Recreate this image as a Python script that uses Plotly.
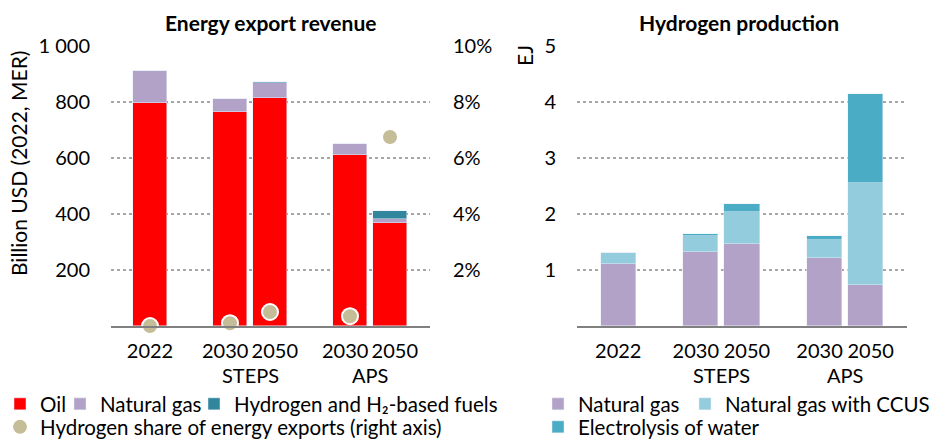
import plotly.graph_objects as go

# ---- data ----
categories = ["2022", "2030", "2050", "2030", "2050"]
positions = [0, 2, 3, 5, 6]            # gaps separate 2022 / STEPS / APS
scenario_labels = ["STEPS", "APS"]
scenario_centres = [2.5, 5.5]

# Energy export revenue, billion USD (2022, MER)
oil = [795, 764, 815, 612, 369]
natural_gas_rev = [116, 47, 54, 38, 13]
hydrogen_rev = [0, 1, 4, 1, 29]
# Hydrogen share of energy exports, %
hydrogen_share = [0.0, 0.1, 0.5, 0.35, 6.75]

# Hydrogen production, EJ
h2_natural_gas = [1.10, 1.32, 1.47, 1.21, 0.73]
h2_gas_ccus = [0.21, 0.29, 0.56, 0.33, 1.82]
h2_electrolysis = [0.0, 0.04, 0.14, 0.06, 1.60]

left_ticks = [200, 400, 600, 800, 1000]
left_tick_text = ["200", "400", "600", "800", "1 000"]
share_ticks = [2, 4, 6, 8, 10]
share_tick_text = ["2%", "4%", "6%", "8%", "10%"]
right_ticks = [1, 2, 3, 4, 5]

# ---- styling ----
W, H = 933, 440
FONT = "Lato"
FS_TICK = 20
FS_TEXT = 21
FS_LEGEND = 20.5
C_OIL = "#FF0000"
C_GAS = "#B3A2C7"
C_H2 = "#31859C"
C_SHARE = "#C4BD97"
C_CCUS = "#93CDDD"
C_ELEC = "#4BACC6"
GRID = "#A6A6A6"
AXIS = "#808080"

# paired year labels are nudged apart so neighbouring labels don't touch
LABEL_NUDGE = 0.12


def px_x(p):
    return p / W


def px_y(p):
    return 1 - p / H


def label_positions(pos):
    out = []
    for i, p in enumerate(pos):
        if i == 0:
            out.append(p)
        elif i % 2 == 1:
            out.append(p - LABEL_NUDGE)
        else:
            out.append(p + LABEL_NUDGE)
    return out


fig = go.Figure()

bar_w_left = 0.83
bar_w_right = 0.85

fig.add_trace(go.Bar(x=positions, y=oil, name="Oil", marker_color=C_OIL,
                     width=bar_w_left, xaxis="x", yaxis="y", legend="legend"))
fig.add_trace(go.Bar(x=positions, y=natural_gas_rev, name="Natural gas", marker_color=C_GAS,
                     width=bar_w_left, xaxis="x", yaxis="y", legend="legend2"))
fig.add_trace(go.Bar(x=positions, y=hydrogen_rev, name="Hydrogen and H₂-based fuels",
                     marker_color=C_H2, width=bar_w_left, xaxis="x", yaxis="y",
                     legend="legend3"))
fig.add_trace(go.Scatter(x=positions, y=hydrogen_share, mode="markers",
                         name="Hydrogen share of energy exports (right axis)",
                         marker=dict(color=C_SHARE, size=16, line=dict(color="white", width=2)),
                         xaxis="x", yaxis="y2", legend="legend4", cliponaxis=False))

fig.add_trace(go.Bar(x=positions, y=h2_natural_gas, name="Natural gas", marker_color=C_GAS,
                     width=bar_w_right, xaxis="x2", yaxis="y3", legend="legend5"))
fig.add_trace(go.Bar(x=positions, y=h2_gas_ccus, name="Natural gas with CCUS",
                     marker_color=C_CCUS, width=bar_w_right, xaxis="x2", yaxis="y3",
                     legend="legend6"))
fig.add_trace(go.Bar(x=positions, y=h2_electrolysis, name="Electrolysis of water",
                     marker_color=C_ELEC, width=bar_w_right, xaxis="x2", yaxis="y3",
                     legend="legend7"))

xd_left = [px_x(111), px_x(430)]
xd_right = [px_x(577), px_x(907)]
yd = [px_y(326), px_y(46)]

tick_font = dict(family=FONT, size=FS_TICK, color="black")
text_font = dict(family=FONT, size=FS_TEXT, color="black")
legend_font = dict(family=FONT, size=FS_LEGEND, color="black")

common_x = dict(tickmode="array", tickvals=label_positions(positions), ticktext=categories,
                tickangle=0, showgrid=False, zeroline=False, showline=True, linecolor=AXIS,
                linewidth=2, ticks="", ticklabelstandoff=6,
                tickfont=tick_font, fixedrange=True)
common_y = dict(showgrid=True, gridcolor=GRID, griddash="dot", gridwidth=2,
                zeroline=False, showline=False, ticks="", ticklabelstandoff=20,
                tickfont=tick_font, fixedrange=True)


def legend_at(item_x, y):
    # item_x: left edge of the legend entry in pixels (swatch sits ~15 px in)
    return dict(x=px_x(item_x), y=px_y(y), xanchor="left", yanchor="middle",
                orientation="h", bgcolor="rgba(0,0,0,0)", borderwidth=0,
                font=legend_font)


fig.update_layout(
    width=W, height=H, margin=dict(l=0, r=0, t=0, b=0, autoexpand=False),
    paper_bgcolor="white", plot_bgcolor="white",
    barmode="stack", bargap=0,
    font=text_font,
    xaxis=dict(domain=xd_left, range=[-0.975, 7.0], anchor="y", **common_x),
    yaxis=dict(domain=yd, range=[0, 1000], tickvals=left_ticks, ticktext=left_tick_text,
               anchor="x", **common_y),
    yaxis2=dict(overlaying="y", side="right", anchor="x", range=[0, 10],
                tickvals=share_ticks, ticktext=share_tick_text, showgrid=False,
                zeroline=False, showline=False, ticks="", ticklabelstandoff=22,
                tickfont=tick_font, fixedrange=True),
    xaxis2=dict(domain=xd_right, range=[-1.0, 7.0], anchor="y3", **common_x),
    yaxis3=dict(domain=yd, range=[0, 5], tickvals=right_ticks, anchor="x2", **common_y),
    legend=legend_at(0, 404),
    legend2=legend_at(60, 404),
    legend3=legend_at(194, 404),
    legend4=legend_at(0, 427),
    legend5=legend_at(538, 404),
    legend6=legend_at(685, 404),
    legend7=legend_at(538, 427),
    showlegend=True,
)


def note(text, x, y, **kw):
    return dict(text=text, x=x, y=y, xref="paper", yref="paper", showarrow=False,
                xanchor="center", yanchor="middle", font=text_font, **kw)


annotations = [
    note("<b>Energy export revenue</b>", px_x(270), px_y(23)),
    note("<b>Hydrogen production</b>", px_x(739), px_y(23)),
    note("Billion USD (2022, MER)", px_x(18), px_y(164), textangle=-90),
    note("EJ", px_x(525), px_y(56), textangle=-90),
]
for xa in ("x", "x2"):
    for lab, cx in zip(scenario_labels, scenario_centres):
        annotations.append(dict(text=lab, x=cx, xref=xa, y=px_y(375), yref="paper",
                                showarrow=False, xanchor="center", yanchor="middle",
                                font=tick_font))
fig.update_layout(annotations=annotations)

fig.write_html("out.html")
